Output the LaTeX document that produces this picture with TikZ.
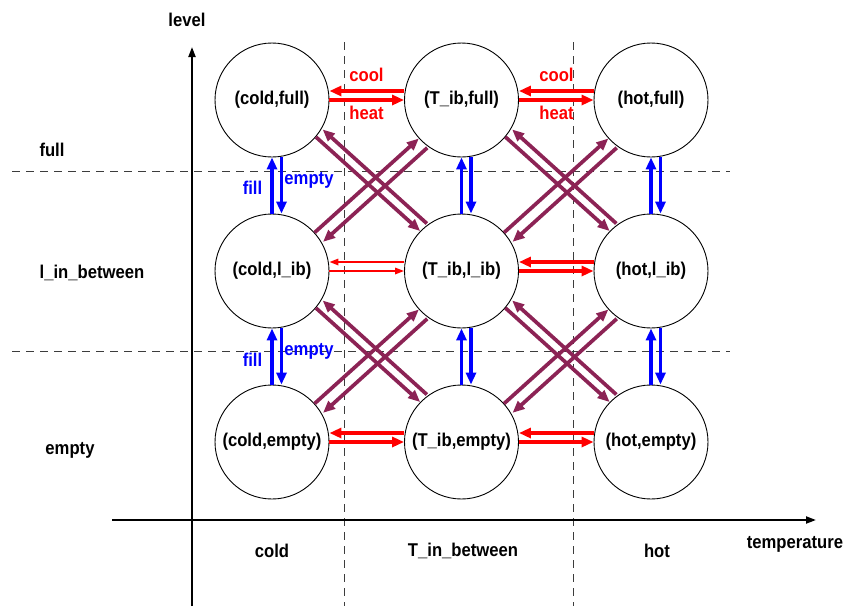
\documentclass[tikz,border=0pt]{standalone}
\usepackage{fontspec}
\setmainfont{Liberation Sans}[FakeStretch=0.9]
\usetikzlibrary{arrows.meta}

\definecolor{plum}{RGB}{140,35,85}
\definecolor{gridgray}{RGB}{60,60,60}

\begin{document}
\begin{tikzpicture}[x=1pt, y=-1pt,
    every node/.style={font=\fontsize{18.5}{21}\selectfont\bfseries},
    state/.style={draw, circle, minimum size=114pt, inner sep=0pt, line width=0.9pt},
    sep/.style={gridgray, line width=1pt, dash pattern=on 8pt off 6pt},
    axis/.style={line width=2pt, -{Triangle[length=10pt,width=7pt]}},
    tempar/.style={red, line width=3.7pt, -{Triangle[length=12pt,width=10pt]}},
    thinar/.style={red, line width=1.6pt, -{Triangle[length=9pt,width=6.5pt]}},
    levelar/.style={blue, line width=3.7pt, -{Triangle[length=12pt,width=10pt]}},
    diagar/.style={plum, line width=3.7pt, -{Triangle[length=12pt,width=10pt]}}]
    \useasboundingbox (0,0) rectangle (847,606);

    % region borders
    \draw[sep] (12,171) -- (730,171);
    \draw[sep] (12,351) -- (730,351);
    \draw[sep] (344.5,42) -- (344.5,606);
    \draw[sep] (573,42) -- (573,606);

    % axes
    \draw[axis] (192,606) -- (192,47);
    \draw[axis] (112,520) -- (816,520);
    \node (lvl) at (187,20) {level};
    \node (tmp) at (795,544) {temperature};
    \node (lfull) at (52,150) {full};
    \node (lmid) at (92,273) {l\_in\_between};
    \node (lempty) at (70,450) {empty};
    \node (tcold) at (272,551) {cold};
    \node (tmid) at (463,551) {T\_in\_between};
    \node (thot) at (657,551) {hot};

    % states
    \node[state] (cf) at (272,100) {(cold,full)};
    \node[state] (tf) at (461.5,100) {(T\_ib,full)};
    \node[state] (hf) at (651,100) {(hot,full)};
    \node[state] (ci) at (272,271) {(cold,l\_ib)};
    \node[state] (ti) at (461.5,271) {(T\_ib,l\_ib)};
    \node[state] (hi) at (651,271) {(hot,l\_ib)};
    \node[state] (ce) at (272,442) {(cold,empty)};
    \node[state] (te) at (461.5,442) {(T\_ib,empty)};
    \node[state] (he) at (651,442) {(hot,empty)};

    % cool / heat
    \draw[tempar, transform canvas={yshift=9pt}] (tf) -- (cf);
    \draw[tempar] (cf) -- (tf);
    \draw[tempar, transform canvas={yshift=9pt}] (hf) -- (tf);
    \draw[tempar] (tf) -- (hf);
    \draw[thinar, transform canvas={yshift=9pt}] (ti) -- (ci);
    \draw[thinar] (ci) -- (ti);
    \draw[tempar, transform canvas={yshift=9pt}] (hi) -- (ti);
    \draw[tempar] (ti) -- (hi);
    \draw[tempar, transform canvas={yshift=9pt}] (te) -- (ce);
    \draw[tempar] (ce) -- (te);
    \draw[tempar, transform canvas={yshift=9pt}] (he) -- (te);
    \draw[tempar] (te) -- (he);
    \node[red] (cool1) at (366.5,75) {cool};
    \node[red] (heat1) at (366.5,113) {heat};
    \node[red] (cool2) at (556.5,75) {cool};
    \node[red] (heat2) at (556.5,113) {heat};

    % fill / empty
    \draw[levelar] (ci) -- (cf);
    \draw[levelar, transform canvas={xshift=9.5pt}] (cf) -- (ci);
    \draw[levelar] (ti) -- (tf);
    \draw[levelar, transform canvas={xshift=9.5pt}] (tf) -- (ti);
    \draw[levelar] (hi) -- (hf);
    \draw[levelar, transform canvas={xshift=9.5pt}] (hf) -- (hi);
    \draw[levelar] (ce) -- (ci);
    \draw[levelar, transform canvas={xshift=9.5pt}] (ci) -- (ce);
    \draw[levelar] (te) -- (ti);
    \draw[levelar, transform canvas={xshift=9.5pt}] (ti) -- (te);
    \draw[levelar] (he) -- (hi);
    \draw[levelar, transform canvas={xshift=9.5pt}] (hi) -- (he);
    \node[blue] (fill1) at (252.5,188) {fill};
    \node[blue] (empty1) at (309,180) {empty};
    \node[blue] (fill2) at (252.5,360) {fill};
    \node[blue] (empty2) at (309,351) {empty};

    % both at once
    \draw[diagar, transform canvas={xshift=8pt, yshift=9pt}] (ti) -- (cf);
    \draw[diagar, transform canvas={xshift=1.3pt, yshift=1.5pt}] (cf) -- (ti);
    \draw[diagar, transform canvas={xshift=8pt, yshift=9pt}] (hi) -- (tf);
    \draw[diagar, transform canvas={xshift=1.3pt, yshift=1.5pt}] (tf) -- (hi);
    \draw[diagar, transform canvas={xshift=8pt, yshift=9pt}] (te) -- (ci);
    \draw[diagar, transform canvas={xshift=1.3pt, yshift=1.5pt}] (ci) -- (te);
    \draw[diagar, transform canvas={xshift=8pt, yshift=9pt}] (he) -- (ti);
    \draw[diagar, transform canvas={xshift=1.3pt, yshift=1.5pt}] (ti) -- (he);
    \draw[diagar] (ci) -- (tf);
    \draw[diagar, transform canvas={xshift=8.4pt, yshift=-9.3pt}] (tf) -- (ci);
    \draw[diagar] (ti) -- (hf);
    \draw[diagar, transform canvas={xshift=8.4pt, yshift=-9.3pt}] (hf) -- (ti);
    \draw[diagar] (ce) -- (ti);
    \draw[diagar, transform canvas={xshift=8.4pt, yshift=-9.3pt}] (ti) -- (ce);
    \draw[diagar] (te) -- (hi);
    \draw[diagar, transform canvas={xshift=8.4pt, yshift=-9.3pt}] (hi) -- (te);
\end{tikzpicture}
\end{document}
